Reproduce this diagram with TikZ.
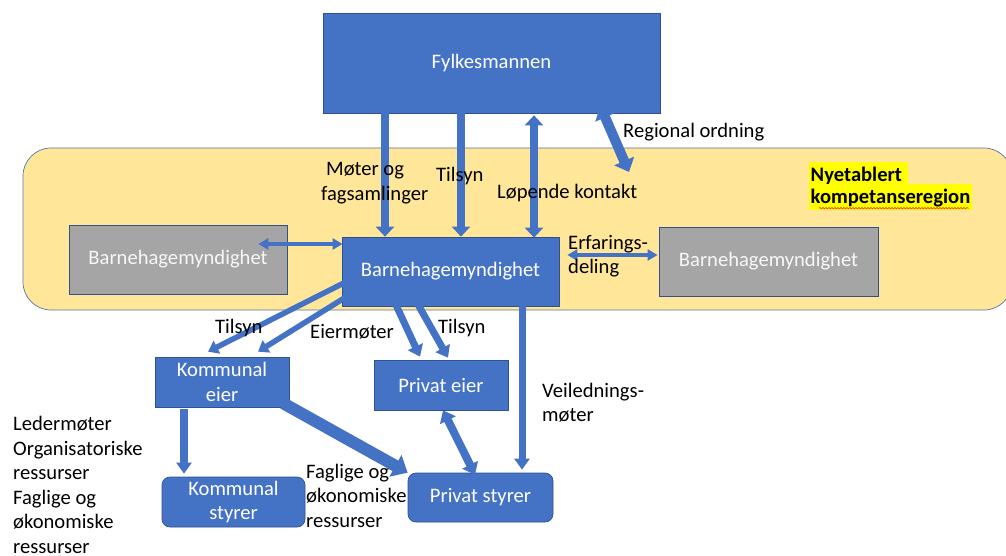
\documentclass[tikz,border=0pt]{standalone}
\usepackage{fontspec}
\setmainfont{Carlito}
\usetikzlibrary{arrows.meta,decorations.pathmorphing}
\definecolor{bl}{HTML}{4472C4}
\definecolor{bd}{HTML}{2F528F}
\definecolor{yl}{HTML}{FFE699}
\definecolor{gy}{HTML}{A5A5A5}
\definecolor{hl}{HTML}{FFFF00}
\newcommand{\mlines}[1]{\begin{tabular}[t]{@{}l@{}}#1\end{tabular}}
\tikzset{
  box/.style={draw=bd, fill=bl, text=white, line width=0.7pt, inner sep=0pt, align=center},
  gbox/.style={box, fill=gy, text=white!94!gray},
  rbox/.style={box, rounded corners=8pt},
  lbl/.style={text=black, inner sep=0pt, anchor=base west},
  hlt/.style={lbl, fill=hl, font=\fontsize{20.6}{24.6}\selectfont\bfseries, text height=20pt, text depth=6pt, inner xsep=1.5pt},
  blk/.style n args={3}{draw=bl, line width=#1, arrows={-Triangle[width=#2,length=#3]}},
  dblk/.style n args={3}{draw=bl, line width=#1, arrows={Triangle[width=#2,length=#3]-Triangle[width=#2,length=#3]}},
}
\begin{document}
\begin{tikzpicture}[x=1pt,y=-1pt,font=\fontsize{20.6}{24.6}\selectfont]
\useasboundingbox (0,0) rectangle (1006,556);
\fill[white] (0,0) rectangle (1006,556);
% region
\node[draw=bd!80, line width=0.7pt, fill=yl, rounded corners=28pt, minimum width=989, minimum height=162, inner sep=0pt] (region) at (517.5,229) {};
% boxes
\node[box, minimum width=337, minimum height=100] (fylke) at (491.5,63) {Fylkesmannen};
\node[gbox, minimum width=218, minimum height=69] (gl) at (178,259.5) {Barnehagemyndighet};
\node[box, minimum width=217, minimum height=69] (bc) at (450.5,271.5) {Barnehagemyndighet};
\node[gbox, minimum width=219, minimum height=69] (gr) at (768.5,261.5) {Barnehagemyndighet};
\node[box, minimum width=134, minimum height=50] (ke) at (222,382) {Kommunal\\eier};
\node[box, minimum width=134, minimum height=50] (pe) at (441,385) {Privat eier};
\node[rbox, minimum width=143, minimum height=50] (ks) at (233.5,502) {Kommunal\\styrer};
\node[rbox, minimum width=145, minimum height=49] (ps) at (480.5,497.5) {Privat styrer};
\coordinate (roend) at (629,172);
% arrows
\draw[blk={8pt}{18pt}{10pt}] ([shift={(-106.5,0)}]fylke.south) -- ([shift={(-65.5,0)}]bc.north);
\draw[blk={8pt}{18pt}{10pt}] ([shift={(-30.5,0)}]fylke.south) -- ([shift={(10.5,0)}]bc.north);
\draw[dblk={8pt}{18pt}{10pt}] ([shift={(42.5,2)}]fylke.south) -- ([shift={(83.5,1)}]bc.north);
\draw[dblk={10pt}{21pt}{12pt}] ([shift={(-60,-7)}]fylke.south east) -- (roend);
\draw[dblk={3.5pt}{11pt}{10pt}] ([shift={(-29,-15.5)}]gl.east) -- ([shift={(1,-27.5)}]bc.west);
\draw[dblk={3.5pt}{11pt}{10pt}] ([shift={(8,-16.5)}]bc.east) -- ([shift={(-1,-6.5)}]gr.west);
\draw[blk={5.5pt}{14pt}{10pt}] ([shift={(14,5.5)}]bc.west) -- ([shift={(-14,-5)}]ke.north);
\draw[blk={5.5pt}{14pt}{10pt}] ([shift={(22,14.5)}]bc.west) -- ([shift={(36,-5)}]ke.north);
\draw[blk={7pt}{16pt}{11pt}] ([shift={(-65.5,-25)}]bc.south) -- ([shift={(-21,-3)}]pe.north);
\draw[blk={7pt}{16pt}{11pt}] ([shift={(-40.5,-16)}]bc.south) -- ([shift={(7,-2)}]pe.north);
\draw[blk={7pt}{15pt}{11pt}] ([shift={(71.5,0)}]bc.south) -- ([shift={(41.5,-3)}]ps.north);
\draw[blk={8pt}{15pt}{11pt}] ([shift={(-38,2)}]ke.south) -- ([shift={(-49.5,-3)}]ks.north);
\draw[blk={12pt}{24pt}{14pt}] ([shift={(-6,-4)}]ke.south east) -- (ps.north west);
\draw[dblk={8pt}{17pt}{11pt}] ([shift={(2,0)}]pe.south) -- ([shift={(-5.5,2)}]ps.north);
% labels
\node[lbl] (lro) at (623,138) {Regional ordning};
\node[lbl] (lmf) at (321,176) {\mlines{\hspace*{5pt}Møter og\\fagsamlinger}};
\node[lbl] (lt1) at (436,182) {Tilsyn};
\node[lbl] (llk) at (497,198) {Løpende kontakt};
\node[hlt] (nyet) at (809,182) {Nyetablert\hspace*{4pt}};
\node[hlt] (komp) at (809,204) {kompetanseregion};
\draw[red, line width=0.5pt, decorate, decoration={snake, amplitude=0.7pt, segment length=3pt}] ([shift={(10,-2)}]komp.south west) -- ([shift={(-3,-2)}]komp.south east);
\node[lbl] (lerf) at (568,249) {\mlines{Erfarings-\\deling}};
\node[lbl] (lt2) at (215,333) {Tilsyn};
\node[lbl] (leie) at (310,338) {Eiermøter};
\node[lbl] (lt3) at (438,333) {Tilsyn};
\node[lbl] (lvei) at (542,397) {\mlines{Veilednings-\\møter}};
\node[lbl] (lled) at (13,430.5) {\mlines{Ledermøter\\Organisatoriske\\ressurser\\Faglige og\\økonomiske\\ressurser}};
\node[lbl] (lfag) at (306,478) {\mlines{Faglige og\\økonomiske\\ressurser}};
\end{tikzpicture}
\end{document}
